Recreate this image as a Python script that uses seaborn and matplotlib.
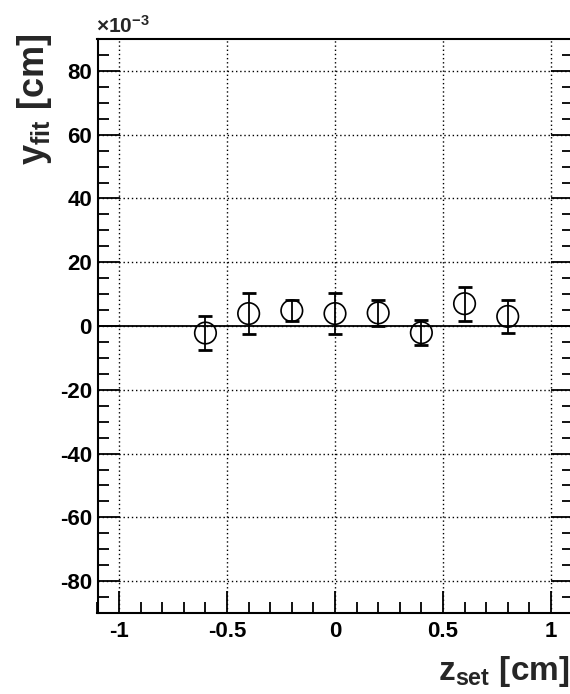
import matplotlib
matplotlib.use("Agg")
import matplotlib.pyplot as plt
import seaborn as sns
import pandas as pd
from matplotlib.ticker import MultipleLocator

# data (y in units of 1e-3 cm)
z_set = [-0.6, -0.4, -0.2, 0.0, 0.2, 0.4, 0.6, 0.8]
y_fit = [-2.2, 3.9, 4.8, 3.9, 4.1, -2.1, 7.0, 3.0]
y_err = [5.2, 6.3, 3.3, 6.4, 4.0, 3.9, 5.3, 5.2]
x_ticks = [-1, -0.5, 0, 0.5, 1]
x_ticklabels = ["-1", "-0.5", "0", "0.5", "1"]
y_ticks = [-80, -60, -40, -20, 0, 20, 40, 60, 80]

df = pd.DataFrame({"z": z_set, "y": y_fit, "e": y_err})

sns.set_theme(style="ticks")
plt.rcParams["font.family"] = ["Liberation Sans", "DejaVu Sans"]
plt.rcParams["font.weight"] = "bold"
plt.rcParams["axes.unicode_minus"] = False
plt.rcParams["mathtext.fontset"] = "custom"
plt.rcParams["mathtext.rm"] = "Liberation Sans:bold"
plt.rcParams["mathtext.bf"] = "Liberation Sans:bold"
plt.rcParams["mathtext.it"] = "Liberation Sans:bold"

fig = plt.figure(figsize=(5.7, 6.94), dpi=100)
ax = fig.add_axes([97.5 / 570, 81 / 694, 475 / 570, 574 / 694])

ax.set_xlim(-1.1, 1.1)
ax.set_ylim(-90, 90)

ax.grid(True, which="major", color="black", linestyle=(0, (1, 2)), linewidth=1.0)
ax.axhline(0, color="black", linewidth=1.3, zorder=2)

ax.errorbar(df["z"], df["y"], yerr=df["e"], fmt="none", ecolor="black",
            elinewidth=1.3, capsize=5, capthick=2, zorder=3)
sns.scatterplot(data=df, x="z", y="y", ax=ax, marker="o", s=15.5 ** 2,
                facecolor="none", edgecolor="black", linewidth=1.2, zorder=4,
                legend=False)

ax.set_xticks(x_ticks)
ax.set_xticklabels(x_ticklabels)
ax.set_yticks(y_ticks)
ax.set_yticklabels([str(v) for v in y_ticks])
ax.xaxis.set_minor_locator(MultipleLocator(0.1))
ax.yaxis.set_minor_locator(MultipleLocator(5))
ax.tick_params(which="both", direction="in", top=False, right=True,
               labelsize=16, width=1.3, colors="black")
ax.tick_params(axis="x", pad=6)
ax.tick_params(axis="y", pad=4)
ax.tick_params(which="major", length=16)
ax.tick_params(which="minor", length=8)
for lab in ax.get_xticklabels() + ax.get_yticklabels():
    lab.set_fontweight("bold")
for s in ax.spines.values():
    s.set_linewidth(1.5)
    s.set_color("black")

ax.set_xlabel("")
ax.set_ylabel("")
fig.text(569 / 570, 1 - 680 / 694, r"$\mathregular{z_{set}}$ [cm]", ha="right",
         va="baseline", fontsize=24, fontweight="bold")
fig.text(54 / 570, 1 - 33 / 694, r"$\mathregular{y_{fit}}$ [cm]", ha="right",
         va="top", rotation=90, fontsize=26, fontweight="bold")
fig.text(96 / 570, 1 - 33 / 694, r"$\mathregular{\times 10^{-3}}$", ha="left",
         va="baseline", fontsize=15, fontweight="bold")

fig.savefig("out.png", dpi=100)
